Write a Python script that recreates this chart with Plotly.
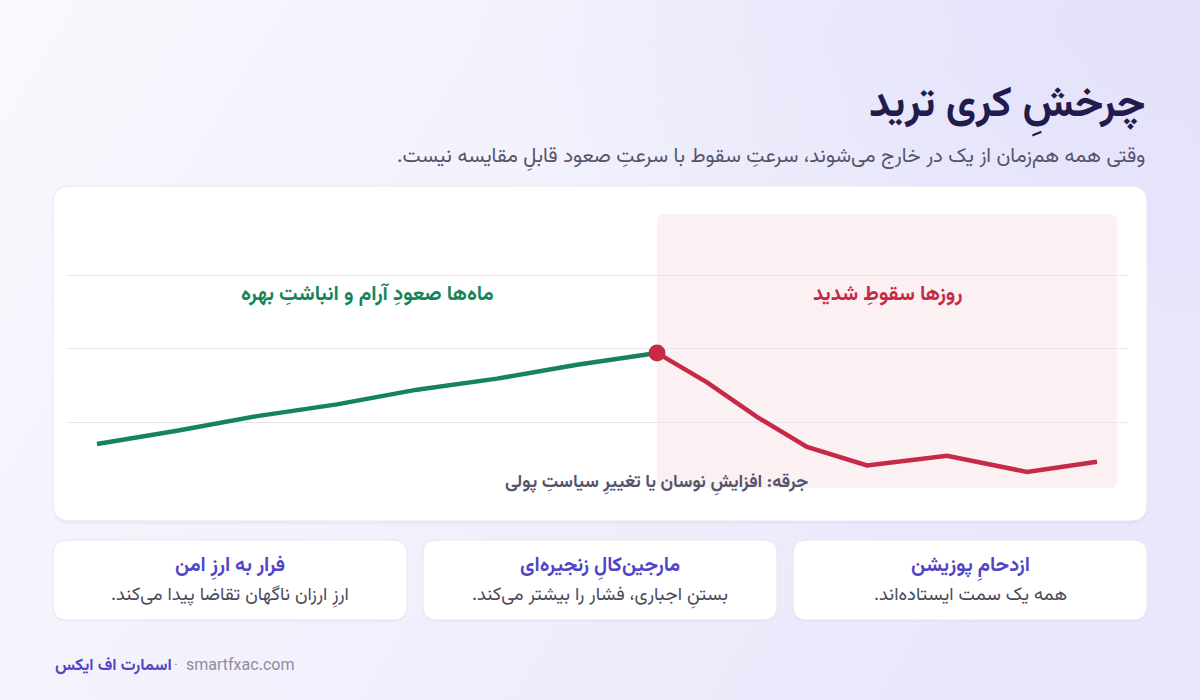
import base64
import plotly.graph_objects as go

# ---------------- data ----------------
x_calm = [0, 1, 2, 3, 4, 5, 6, 7]
y_calm = [0.70, 0.88, 1.08, 1.24, 1.44, 1.59, 1.78, 1.94]
x_crash = [7, 7.625, 8.25, 8.875, 9.625, 10.625, 11.625, 12.5]
y_crash = [1.94, 1.54, 1.07, 0.66, 0.41, 0.54, 0.32, 0.46]
grid_vals = [1, 2, 3]

title_text = "چرخشِ کری ترید"
subtitle_text = "\u200fوقتی همه هم\u200cزمان از یک در خارج می\u200cشوند، سرعتِ سقوط با سرعتِ صعود قابلِ مقایسه نیست.\u200f"
calm_label = "ماه\u200cها صعودِ آرام و انباشتِ بهره"
crash_label = "روزها سقوطِ شدید"
trigger_label = "جرقه: افزایشِ نوسان یا تغییرِ سیاستِ پولی"
card_titles = ["فرار به ارزِ امن", "مارجین\u200cکالِ زنجیره\u200cای", "ازدحامِ پوزیشن"]
card_texts = ["\u200fارزِ ارزان ناگهان تقاضا پیدا می\u200cکند.\u200f",
              "\u200fبستنِ اجباری، فشار را بیشتر می\u200cکند.\u200f",
              "\u200fهمه یک سمت ایستاده\u200cاند.\u200f"]
brand = "اسمارت اف ایکس"
site = "smartfxac.com"

W, H = 1200, 700
FONT = "Vazirmatn, 'Noto Sans Arabic', 'DejaVu Sans', sans-serif"
GREEN = "#16845a"
RED = "#c62a47"
INDIGO = "#5146c6"


def px(x):
    return x / W


def py(y):
    return 1 - y / H


def rrect(x0, y0, x1, y1, r):
    rx, ry = r / W, r / H
    X0, X1 = px(x0), px(x1)
    Y0, Y1 = py(y0), py(y1)  # Y0 top (larger), Y1 bottom
    return (f"M {X0+rx},{Y0} L {X1-rx},{Y0} Q {X1},{Y0} {X1},{Y0-ry} "
            f"L {X1},{Y1+ry} Q {X1},{Y1} {X1-rx},{Y1} "
            f"L {X0+rx},{Y1} Q {X0},{Y1} {X0},{Y1+ry} "
            f"L {X0},{Y0-ry} Q {X0},{Y0} {X0+rx},{Y0} Z")


# background gradient as svg image
svg = f'''<svg xmlns="http://www.w3.org/2000/svg" width="{W}" height="{H}">
<defs>
<linearGradient id="g" x1="0" y1="0" x2="1" y2="0.35">
<stop offset="0" stop-color="#f9f8fe"/>
<stop offset="0.55" stop-color="#f1f0fc"/>
<stop offset="1" stop-color="#e9e7fb"/>
</linearGradient>
<radialGradient id="r" cx="1" cy="0" r="0.6">
<stop offset="0" stop-color="#e2e0fa" stop-opacity="0.9"/>
<stop offset="1" stop-color="#e2e0fa" stop-opacity="0"/>
</radialGradient>
</defs>
<rect width="{W}" height="{H}" fill="url(#g)"/>
<rect width="{W}" height="{H}" fill="url(#r)"/>
</svg>'''
bg_uri = "data:image/svg+xml;base64," + base64.b64encode(svg.encode()).decode()

fig = go.Figure()

fig.add_trace(go.Scatter(x=x_calm, y=y_calm, mode="lines",
                         line=dict(color=GREEN, width=4.5), hoverinfo="skip",
                         showlegend=False))
fig.add_trace(go.Scatter(x=x_crash, y=y_crash, mode="lines",
                         line=dict(color=RED, width=4.5), hoverinfo="skip",
                         showlegend=False))
fig.add_trace(go.Scatter(x=[x_crash[0]], y=[y_crash[0]], mode="markers",
                         marker=dict(color=RED, size=17), hoverinfo="skip",
                         showlegend=False))

shapes = []
# chart card shadow + card
shapes.append(dict(type="path", path=rrect(53, 188, 1147, 524, 16), xref="paper", yref="paper",
                   fillcolor="rgba(120,110,190,0.06)", line=dict(width=0), layer="below"))
shapes.append(dict(type="path", path=rrect(53, 186, 1147, 521, 16), xref="paper", yref="paper",
                   fillcolor="#ffffff", line=dict(color="#e7e5f3", width=1), layer="below"))
# crash region
shapes.append(dict(type="path", path=rrect(657, 214, 1117, 488, 8), xref="paper", yref="paper",
                   fillcolor="#fbf1f3", line=dict(width=0), layer="below"))
# bottom cards
for x0 in [53, 423, 793]:
    shapes.append(dict(type="path", path=rrect(x0, 542, x0 + 354, 622, 14), xref="paper", yref="paper",
                       fillcolor="rgba(120,110,190,0.05)", line=dict(width=0), layer="below"))
    shapes.append(dict(type="path", path=rrect(x0, 540, x0 + 354, 620, 14), xref="paper", yref="paper",
                       fillcolor="#ffffff", line=dict(color="#e7e5f3", width=1), layer="below"))

ann = []
ann.append(dict(text=f"<b>{title_text}</b>", x=px(1147), y=py(106), xanchor="right", yanchor="middle",
                font=dict(size=42, color="#211c4d", family=FONT)))
ann.append(dict(text=subtitle_text, x=px(1147), y=py(157), xanchor="right", yanchor="middle",
                font=dict(size=20.4, color="#55546b", family=FONT)))
ann.append(dict(text=f"<b>{calm_label}</b>", x=px(367), y=py(295), xanchor="center", yanchor="middle",
                font=dict(size=20.5, color=GREEN, family=FONT)))
ann.append(dict(text=f"<b>{crash_label}</b>", x=px(887), y=py(295), xanchor="center", yanchor="middle",
                font=dict(size=20.5, color=RED, family=FONT)))
ann.append(dict(text=f"<b>{trigger_label}</b>", x=px(656), y=py(483), xanchor="center", yanchor="middle",
                font=dict(size=18, color="#56546b", family=FONT)))
for i, cx in enumerate([230, 600, 970]):
    ann.append(dict(text=f"<b>{card_titles[i]}</b>", x=px(cx), y=py(566), xanchor="center", yanchor="middle",
                    font=dict(size=20, color=INDIGO, family=FONT)))
    ann.append(dict(text=card_texts[i], x=px(cx), y=py(595), xanchor="center", yanchor="middle",
                    font=dict(size=18.5, color="#4c4b5c", family=FONT)))
ann.append(dict(text=f"<b>{brand}</b>", x=px(53), y=py(666), xanchor="left", yanchor="middle",
                font=dict(size=16.5, color=INDIGO, family=FONT)))
ann.append(dict(text="·", x=px(176), y=py(666), xanchor="center", yanchor="middle",
                font=dict(size=15, color="#8f8da3", family=FONT)))
ann.append(dict(text=site, x=px(184), y=py(666), xanchor="left", yanchor="middle",
                font=dict(size=16, color="#8f8da3", family=FONT)))
for a in ann:
    a.update(xref="paper", yref="paper", showarrow=False)

y_top_px, y_bot_px = 200, 500


def val(pyx):
    return 1 + (422 - pyx) / 73.5


fig.update_layout(
    width=W, height=H, autosize=False,
    margin=dict(l=0, r=0, t=0, b=0),
    paper_bgcolor="#f2f1fc", plot_bgcolor="rgba(0,0,0,0)",
    images=[dict(source=bg_uri, xref="paper", yref="paper", x=0, y=1, sizex=1, sizey=1,
                 xanchor="left", yanchor="top", sizing="stretch", layer="below")],
    shapes=shapes, annotations=ann,
    xaxis=dict(domain=[px(67), px(1127)], range=[-0.375, 12.875], showgrid=False,
               zeroline=False, showticklabels=False, ticks="", fixedrange=True),
    yaxis=dict(domain=[py(y_bot_px), py(y_top_px)], range=[val(y_bot_px), val(y_top_px)],
               tickvals=grid_vals, showgrid=True, gridcolor="#e8e5f0", gridwidth=1.2,
               zeroline=False, showticklabels=False, ticks="", fixedrange=True),
    hovermode=False,
)

fig.write_html("out.html", config={"displayModeBar": False},
               post_script="document.body.style.margin='0';document.body.style.overflow='hidden';")
